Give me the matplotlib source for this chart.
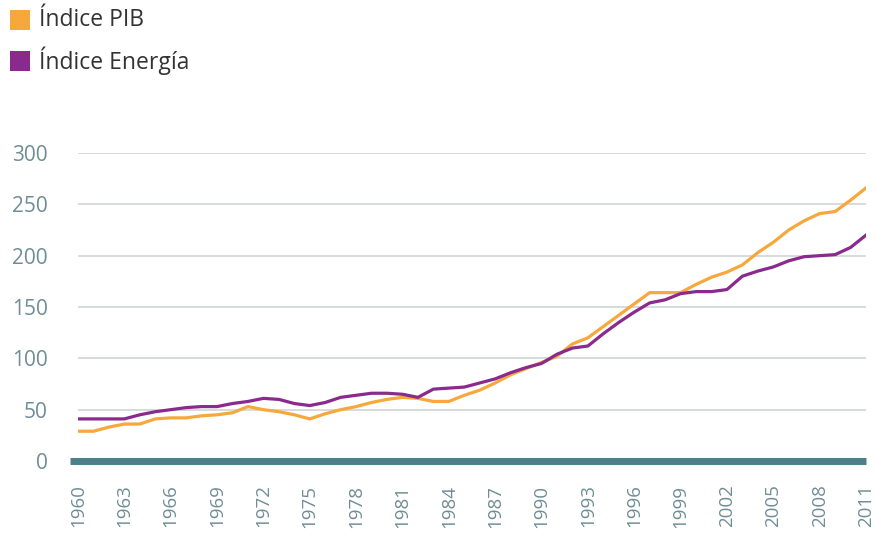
import matplotlib.pyplot as plt
from matplotlib.patches import Rectangle

years = list(range(1960, 2012))
pib = [29, 29, 33, 36, 36, 41, 42, 42, 44, 45,
       47, 53, 50, 48, 45, 41, 46, 50, 53, 57,
       60, 62, 61, 58, 58, 64, 69, 76, 84, 90,
       96, 102, 114, 120, 131, 142, 153, 164, 164, 164,
       172, 179, 184, 191, 203, 213, 225, 234, 241, 243,
       254, 266]
energia = [41, 41, 41, 41, 45, 48, 50, 52, 53, 53,
           56, 58, 61, 60, 56, 54, 57, 62, 64, 66,
           66, 65, 62, 70, 71, 72, 76, 80, 86, 91,
           95, 104, 110, 112, 124, 135, 145, 154, 157, 163,
           165, 165, 167, 180, 185, 189, 195, 199, 200, 201,
           208, 220]
tick_years = list(range(1960, 2012, 3))
yticks = [0, 50, 100, 150, 200, 250, 300]
series_labels = ['Índice PIB', 'Índice Energía']

orange = '#f6a83c'
purple = '#8a2a8c'
teal = '#4a8088'
tick_color = '#6f8d96'

W, H = 875, 537
fig = plt.figure(figsize=(W / 100, H / 100), dpi=100)
ax = fig.add_axes([78 / W, (H - 461) / H, 788 / W, 308 / H])

for y in yticks[1:]:
    ax.axhline(y, color='#d6dadb', lw=1.4, zorder=1)
ax.axhline(0, xmin=-0.01, xmax=1.0, color=teal, lw=5, zorder=2, clip_on=False,
           solid_capstyle='butt')

ax.plot(years, pib, color=orange, lw=2.3, zorder=3)
ax.plot(years, energia, color=purple, lw=2.3, zorder=4)

ax.set_xlim(1960, 2011)
ax.set_ylim(0, 300)
ax.set_yticks(yticks)
ax.set_yticklabels([str(v) for v in yticks], fontsize=15, color=tick_color,
                   family='Open Sans')
ax.set_xticks(tick_years)
ax.set_xticklabels([str(y) for y in tick_years], rotation=90, fontsize=13.5,
                   color=tick_color, family='Open Sans')
ax.tick_params(axis='y', length=0, pad=22)
ax.tick_params(axis='x', length=0, pad=17)
for s in ax.spines.values():
    s.set_visible(False)

# legend drawn by hand: coloured squares + labels
for i, (lab, col) in enumerate(zip(series_labels, [orange, purple])):
    yc = 20 + i * 41
    fig.add_artist(Rectangle((10 / W, 1 - (yc + 10) / H), 20 / W, 20 / H,
                             facecolor=col, edgecolor='none',
                             transform=fig.transFigure))
    fig.text(39 / W, 1 - yc / H, lab, ha='left', va='center', fontsize=16.5,
             color='#333333', family='Open Sans')

fig.savefig('out.png', dpi=100, facecolor='white')
